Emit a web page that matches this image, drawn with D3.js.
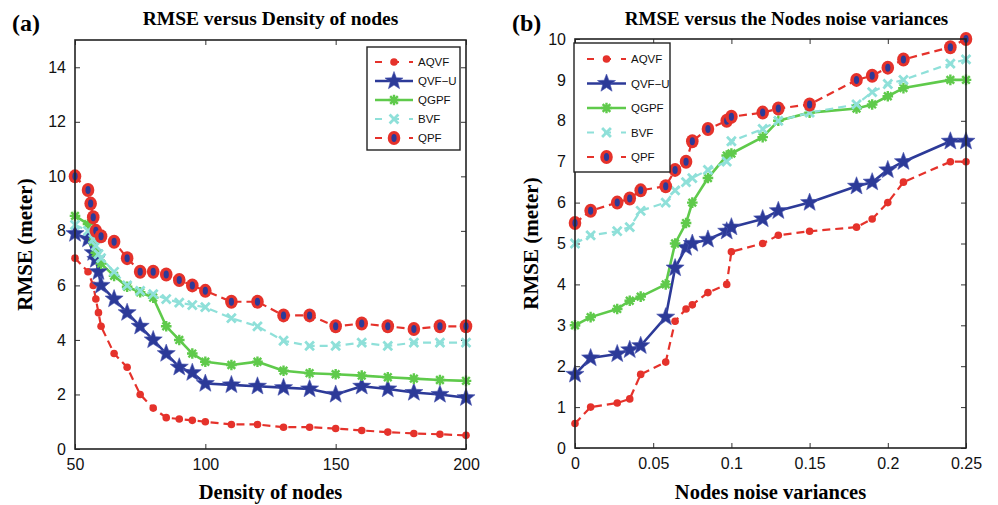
<!DOCTYPE html>
<html><head><meta charset="utf-8">
<script src="https://cdn.jsdelivr.net/npm/d3@7"></script>
<style>body{margin:0;background:#fff}svg{display:block}</style>
</head><body>
<svg id="chart" width="998" height="505"></svg>
<script>
// ---------- Panel (a) data ----------
const aTitle = "RMSE versus Density of nodes";
const aXTicks = [50, 100, 150, 200];
const aYTicks = [0, 2, 4, 6, 8, 10, 12, 14];
const aX_AQVF = [50,55,57,58,59,60,65,70,75,80,85,90,95,100,110,120,130,140,150,160,170,180,190,200];
const aY_AQVF = [7.0,6.5,6.0,5.5,5.0,4.5,3.5,3.0,2.0,1.5,1.15,1.1,1.05,1.0,0.9,0.9,0.8,0.8,0.75,0.68,0.62,0.57,0.54,0.5];
const aX_QVFU = [50,55,57,58,59,60,65,70,75,80,85,90,95,100,110,120,130,140,150,160,170,180,190,200];
const aY_QVFU = [7.9,7.7,7.2,6.95,6.5,6.0,5.5,5.0,4.5,4.0,3.5,3.0,2.8,2.4,2.35,2.3,2.25,2.2,2.0,2.3,2.2,2.07,2.0,1.88];
const aX_QGPF = [50,55,57,58,60,65,70,75,80,85,90,95,100,110,120,130,140,150,160,170,180,190,200];
const aY_QGPF = [8.55,8.25,7.6,7.2,6.8,6.35,5.95,5.75,5.55,4.5,4.0,3.5,3.2,3.08,3.2,2.87,2.78,2.74,2.69,2.63,2.58,2.53,2.5];
const aX_BVF = [50,55,57,58,59,60,65,70,75,80,85,90,95,100,110,120,130,140,150,160,170,180,190,200];
const aY_BVF = [8.22,8.0,7.7,7.45,7.15,7.0,6.5,6.0,5.8,5.68,5.5,5.37,5.28,5.2,4.8,4.5,3.97,3.78,3.78,3.9,3.78,3.9,3.9,3.9];
const aX_QPF = [50,55,56,57,58,60,65,70,75,80,85,90,95,100,110,120,130,140,150,160,170,180,190,200];
const aY_QPF = [10,9.5,9.0,8.5,8.0,7.8,7.6,7.0,6.5,6.5,6.4,6.2,6.0,5.8,5.4,5.4,4.9,4.9,4.5,4.6,4.5,4.4,4.5,4.5];

// ---------- Panel (b) data ----------
const bTitle = "RMSE versus the Nodes noise variances";
const bXTicks = [0, 0.05, 0.1, 0.15, 0.2, 0.25];
const bYTicks = [0,1,2,3,4,5,6,7,8,9,10];
const bX = [0,0.01,0.027,0.035,0.042,0.058,0.064,0.071,0.075,0.085,0.097,0.1,0.12,0.13,0.15,0.18,0.19,0.2,0.21,0.24,0.25];
const bY_AQVF = [0.6,1.0,1.1,1.2,1.8,2.1,3.1,3.4,3.5,3.8,4.0,4.8,5.0,5.2,5.3,5.4,5.6,6.0,6.5,7.0,7.0];
const bY_QVFU = [1.8,2.2,2.3,2.4,2.5,3.2,4.4,4.9,5.0,5.1,5.3,5.4,5.6,5.8,6.0,6.4,6.5,6.8,7.0,7.5,7.5];
const bY_QGPF = [3.0,3.2,3.4,3.6,3.7,4.0,5.0,5.5,6.0,6.6,7.15,7.2,7.6,8.0,8.2,8.3,8.4,8.6,8.8,9.0,9.0];
const bY_BVF = [5.0,5.2,5.3,5.4,5.8,6.0,6.3,6.5,6.6,6.8,7.0,7.5,7.8,8.0,8.2,8.4,8.7,8.9,9.0,9.4,9.5];
const bY_QPF = [5.5,5.8,6.0,6.1,6.3,6.4,6.8,7.0,7.5,7.8,8.0,8.1,8.2,8.3,8.4,9.0,9.1,9.3,9.5,9.8,10.0];

const seriesNames = ["AQVF", "QVF-U", "QGPF", "BVF", "QPF"];

// ---------- styles ----------
const RED = "#e5322b", BLUE = "#2c3a98", GREEN = "#5fca4b", CYAN = "#8fe0d9";
const styles = {
  "AQVF": {color: RED, dash: "8,5", width: 2.2, marker: "dot"},
  "QVF-U": {color: BLUE, dash: null, width: 2.6, marker: "star"},
  "QGPF": {color: GREEN, dash: null, width: 2.6, marker: "ast"},
  "BVF": {color: CYAN, dash: "8,5", width: 2.2, marker: "x"},
  "QPF": {color: RED, dash: "8,5", width: 2.2, marker: "qpf"}
};

const svg = d3.select("#chart");

function starPath(R, r) {
  let p = "";
  for (let i = 0; i < 10; i++) {
    const rad = i % 2 === 0 ? R : r;
    const a = -Math.PI / 2 + i * Math.PI / 5;
    p += (i === 0 ? "M" : "L") + (rad * Math.cos(a)).toFixed(2) + "," + (rad * Math.sin(a)).toFixed(2);
  }
  return p + "Z";
}

function drawMarker(g, type, x, y) {
  const m = g.append("g").attr("transform", `translate(${x},${y})`);
  if (type === "dot") {
    m.append("circle").attr("r", 3.8).attr("fill", RED);
  } else if (type === "star") {
    m.append("path").attr("d", starPath(9.5, 4)).attr("fill", BLUE).attr("stroke", "#4a55b0").attr("stroke-width", 0.6);
  } else if (type === "ast") {
    const r = 5.3, d = r * 0.72;
    m.append("path").attr("d", `M${-r},0L${r},0M0,${-r}L0,${r}M${-d},${-d}L${d},${d}M${-d},${d}L${d},${-d}`)
      .attr("stroke", GREEN).attr("stroke-width", 2.4).attr("fill", "none");
  } else if (type === "x") {
    const r = 4.4;
    m.append("path").attr("d", `M${-r},${-r}L${r},${r}M${-r},${r}L${r},${-r}`)
      .attr("stroke", CYAN).attr("stroke-width", 2.8).attr("fill", "none");
  } else if (type === "qpf") {
    m.append("ellipse").attr("rx", 6.3).attr("ry", 7).attr("fill", RED);
    m.append("ellipse").attr("rx", 2.6).attr("ry", 4).attr("fill", BLUE);
  }
}

function panel(cfg) {
  const {left, right, top, bottom, xDomain, yDomain, xTicks, yTicks, xFmt, series, title, label, xLabel, legend} = cfg;
  const x = d3.scaleLinear().domain(xDomain).range([left, right]);
  const y = d3.scaleLinear().domain(yDomain).range([bottom, top]);
  const g = svg.append("g");
  const tickLen = 5;
  const axColor = "#333";
  // axes with inward ticks
  g.append("g").attr("transform", `translate(0,${bottom})`)
    .call(d3.axisBottom(x).tickValues(xTicks).tickFormat(xFmt).tickSize(-tickLen).tickPadding(10))
    .call(a => { a.select(".domain").remove(); a.selectAll("line").attr("stroke", axColor);
      a.selectAll("text").attr("font-family", "Liberation Sans, Arial, sans-serif").attr("font-size", 16).attr("fill", "#111"); });
  g.append("g").attr("transform", `translate(0,${top})`)
    .call(d3.axisTop(x).tickValues(xTicks).tickFormat("").tickSize(-tickLen))
    .call(a => { a.select(".domain").remove(); a.selectAll("line").attr("stroke", axColor); });
  g.append("g").attr("transform", `translate(${left},0)`)
    .call(d3.axisLeft(y).tickValues(yTicks).tickFormat(d3.format("d")).tickSize(-tickLen).tickPadding(9))
    .call(a => { a.select(".domain").remove(); a.selectAll("line").attr("stroke", axColor);
      a.selectAll("text").attr("font-family", "Liberation Sans, Arial, sans-serif").attr("font-size", 16).attr("fill", "#111"); });
  g.append("g").attr("transform", `translate(${right},0)`)
    .call(d3.axisRight(y).tickValues(yTicks).tickFormat("").tickSize(-tickLen))
    .call(a => { a.select(".domain").remove(); a.selectAll("line").attr("stroke", axColor); });

  // series
  const line = d3.line().x(d => x(d[0])).y(d => y(d[1]));
  series.forEach(s => {
    const st = styles[s.name];
    const pts = s.xs.map((v, i) => [v, s.ys[i]]);
    g.append("path").datum(pts).attr("d", line).attr("fill", "none")
      .attr("stroke", st.color).attr("stroke-width", st.width)
      .attr("stroke-dasharray", st.dash).attr("stroke-linejoin", "round");
  });
  series.forEach(s => {
    const st = styles[s.name];
    s.xs.forEach((v, i) => drawMarker(g, st.marker, x(v), y(s.ys[i])));
  });

  // frame
  g.append("rect").attr("x", left).attr("y", top).attr("width", right - left).attr("height", bottom - top)
    .attr("fill", "none").attr("stroke", "#222").attr("stroke-width", 1.6);

  // legend
  const lg = g.append("g");
  lg.append("rect").attr("x", legend.x).attr("y", legend.y).attr("width", legend.w).attr("height", legend.h)
    .attr("fill", "#fff").attr("stroke", "#222").attr("stroke-width", 1.4);
  seriesNames.forEach((n, i) => {
    const st = styles[n];
    const yy = legend.y + legend.first + i * legend.step;
    lg.append("line").attr("x1", legend.x + legend.l0).attr("x2", legend.x + legend.l1)
      .attr("y1", yy).attr("y2", yy).attr("stroke", st.color).attr("stroke-width", st.width)
      .attr("stroke-dasharray", st.dash ? "7,10" : null);
    drawMarker(lg, st.marker, legend.x + (legend.l0 + legend.l1) / 2, yy);
    lg.append("text").attr("x", legend.x + legend.l1 + 5).attr("y", yy + 4)
      .attr("font-family", "Liberation Sans, Arial, sans-serif").attr("font-size", 11.5).attr("fill", "#111")
      .text(n === "QVF-U" ? "QVF\u2212U" : n);
  });

  // titles and labels
  const serif = "Liberation Serif, Times New Roman, serif";
  g.append("text").attr("x", (left + right) / 2 + cfg.titleShift).attr("y", 25).attr("text-anchor", "middle")
    .attr("font-family", serif).attr("font-weight", "bold").attr("font-size", cfg.titleSize).text(title);
  g.append("text").attr("x", cfg.labelX).attr("y", 31)
    .attr("font-family", serif).attr("font-weight", "bold").attr("font-size", 24).text(label);
  g.append("text").attr("x", (left + right) / 2).attr("y", 499).attr("text-anchor", "middle")
    .attr("font-family", serif).attr("font-weight", "bold").attr("font-size", 20.5).text(xLabel);
  g.append("text").attr("transform", `translate(${cfg.yLabelX},${(top + bottom) / 2}) rotate(-90)`)
    .attr("text-anchor", "middle")
    .attr("font-family", serif).attr("font-weight", "bold").attr("font-size", 21).text("RMSE (meter)");
}

panel({
  left: 75, right: 466, top: 40, bottom: 449,
  xDomain: [50, 200], yDomain: [0, 15], xTicks: aXTicks, yTicks: aYTicks, xFmt: d3.format("d"),
  series: [
    {name: "AQVF", xs: aX_AQVF, ys: aY_AQVF},
    {name: "QVF-U", xs: aX_QVFU, ys: aY_QVFU},
    {name: "QGPF", xs: aX_QGPF, ys: aY_QGPF},
    {name: "BVF", xs: aX_BVF, ys: aY_BVF},
    {name: "QPF", xs: aX_QPF, ys: aY_QPF}
  ],
  title: aTitle, titleShift: 0, titleSize: 19.5, label: "(a)", labelX: 12, xLabel: "Density of nodes", yLabelX: 32,
  legend: {x: 367, y: 47, w: 93, h: 103, first: 15, step: 19, l0: 8, l1: 46}
});

panel({
  left: 575, right: 966, top: 39, bottom: 448,
  xDomain: [0, 0.25], yDomain: [0, 10], xTicks: bXTicks, yTicks: bYTicks, xFmt: d => d === 0 ? "0" : d3.format("")(d),
  series: [
    {name: "AQVF", xs: bX, ys: bY_AQVF},
    {name: "QVF-U", xs: bX, ys: bY_QVFU},
    {name: "QGPF", xs: bX, ys: bY_QGPF},
    {name: "BVF", xs: bX, ys: bY_BVF},
    {name: "QPF", xs: bX, ys: bY_QPF}
  ],
  title: bTitle, titleShift: 16, titleSize: 19, label: "(b)", labelX: 512, xLabel: "Nodes noise variances", yLabelX: 538,
  legend: {x: 574, y: 43, w: 96, h: 129, first: 16, step: 24.5, l0: 13, l1: 52}
});
</script>
</body></html>
